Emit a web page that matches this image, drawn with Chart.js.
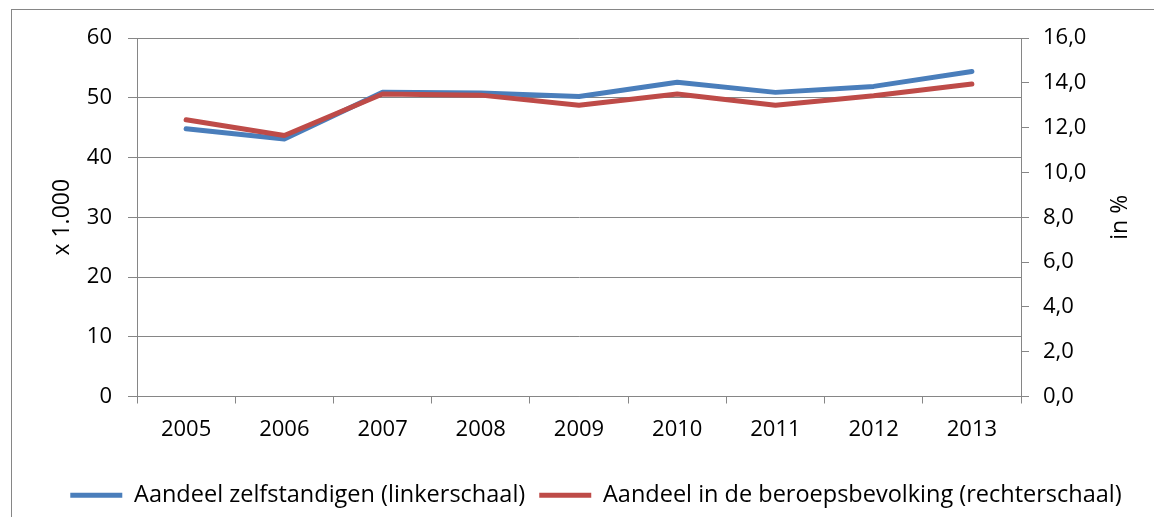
<!DOCTYPE html>
<html>
<head>
<meta charset="utf-8">
<script src="https://cdn.jsdelivr.net/npm/chart.js@4"></script>
<style>
	html, body { margin: 0; padding: 0; background: #fff; overflow: hidden; }
	.wrap { position: relative; width: 1154px; height: 517px; }
	.frame { position: absolute; left: 11px; top: 9px; width: 1300px; height: 700px; border: 1px solid #868686; }
	canvas { position: absolute; left: 0; top: 0; }
</style>
</head>
<body>
<div class="wrap">
	<div class="frame"></div>
	<canvas id="chart" width="1154" height="517"></canvas>
</div>
<script>
"use strict"

const years = ['2005', '2006', '2007', '2008', '2009', '2010', '2011', '2012', '2013'];
// x 1.000 (linkerschaal)
const zelfstandigen = [44.8, 43.1, 50.9, 50.8, 50.2, 52.6, 50.9, 51.9, 54.4];
// in % (rechterschaal)
const beroepsbevolking = [12.35, 11.65, 13.5, 13.45, 13.0, 13.5, 13.0, 13.42, 13.95];

const FONT = "'Open Sans', sans-serif";
const GRID = '#868686';
const BLUE = '#4a7ebb';
const RED = '#be4b48';

// titel rechts, leesrichting van onder naar boven
const rightTitle = {
	id: 'rightTitle',
	afterDraw(chart) {
		const ctx = chart.ctx;
		const area = chart.chartArea;
		ctx.save();
		ctx.translate(1120, (area.top + area.bottom) / 2);
		ctx.rotate(-Math.PI / 2);
		ctx.font = '23px ' + FONT;
		ctx.fillStyle = '#000';
		ctx.textAlign = 'center';
		ctx.textBaseline = 'middle';
		ctx.fillText('in %', 0, 0);
		ctx.restore();
	}
};

new Chart(document.getElementById('chart'), {
	type: 'line',
	data: {
		labels: years,
		datasets: [
			{
				label: 'Aandeel zelfstandigen (linkerschaal)',
				data: zelfstandigen,
				borderColor: BLUE,
				backgroundColor: BLUE,
				pointBorderColor: BLUE,
				pointBorderWidth: 5,
				yAxisID: 'y',
				order: 1
			},
			{
				label: 'Aandeel in de beroepsbevolking (rechterschaal)',
				data: beroepsbevolking,
				borderColor: RED,
				backgroundColor: RED,
				pointBorderColor: RED,
				pointBorderWidth: 5,
				yAxisID: 'y1',
				order: 0
			}
		]
	},
	options: {
		responsive: false,
		animation: false,
		devicePixelRatio: 1,
		elements: {
			line: { borderWidth: 5, tension: 0, borderCapStyle: 'round', borderJoinStyle: 'round' },
			point: { radius: 0, hoverRadius: 0 }
		},
		layout: { padding: { top: 38, left: 38, right: 0, bottom: 0 } },
		scales: {
			x: {
				offset: true,
				grid: { offset: true, drawOnChartArea: false, color: GRID, tickLength: 7 },
				border: { color: GRID },
				ticks: { color: '#000', font: { family: FONT, size: 22 }, padding: 13 },
				afterFit(scale) { scale.height = 73; }
			},
			y: {
				position: 'left',
				min: 0,
				max: 60,
				ticks: { stepSize: 10, color: '#000', font: { family: FONT, size: 22 }, padding: 16 },
				grid: { color: GRID, tickLength: 9 },
				border: { color: GRID },
				title: { display: true, text: 'x 1.000', color: '#000', font: { family: FONT, size: 23 }, padding: { top: 11, bottom: 0 } },
				afterFit(scale) { scale.width = 99; }
			},
			y1: {
				position: 'right',
				min: 0,
				max: 16,
				ticks: {
					stepSize: 2,
					color: '#000',
					font: { family: FONT, size: 22 },
					padding: 14,
					callback: v => v.toFixed(1).replace('.', ',')
				},
				grid: { drawOnChartArea: false, color: GRID, tickLength: 8 },
				border: { color: GRID },
				afterFit(scale) { scale.width = 133; }
			}
		},
		plugins: {
			legend: {
				position: 'bottom',
				labels: {
					usePointStyle: true,
					pointStyle: 'line',
					pointStyleWidth: 52,
					color: '#000',
					font: { family: FONT, size: 23.5 },
					padding: 14,
					sort: (a, b) => a.datasetIndex - b.datasetIndex
				}
			},
			tooltip: { enabled: false }
		}
	},
	plugins: [rightTitle]
});
</script>
</body>
</html>
